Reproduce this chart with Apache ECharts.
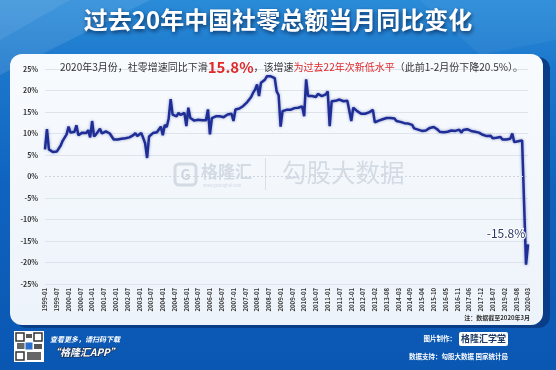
<!DOCTYPE html>
<html><head><meta charset="utf-8">
<script src="https://cdn.jsdelivr.net/npm/echarts@6/dist/echarts.min.js"></script>
<style>html,body{margin:0;padding:0;background:#0b5cb8}#c{width:556px;height:370px}</style>
</head><body><div id="c"></div>
<script>
// ---- data (当月同比, %) ----
const monthsFull = ['01','02','03','04','05','06','07','08','09','10','11','12'];
const monthsNoJan = ['02','03','04','05','06','07','08','09','10','11','12'];
const months2020 = ['02','03'];
const v1999 = [6.3, 11.0, 6.3, 5.9, 5.7, 5.6, 5.8, 6.2, 7.2, 8.3, 8.6, 9.8];
const v2000 = [11.6, 10.2, 9.8, 10.4, 11.9, 9.6, 10.0, 10.2, 9.9, 10.1, 10.8, 9.1];
const v2001 = [12.9, 9.3, 9.8, 10.0, 11.1, 10.0, 10.3, 10.5, 10.4, 10.0, 9.3, 8.6];
const v2002 = [8.2, 8.6, 9.0, 8.8, 8.6, 8.9, 9.2, 9.1, 9.5, 9.6, 10.1, 9.4];
const v2003 = [9.0, 10.1, 9.0, 7.7, 4.3, 9.3, 9.7, 10.1, 10.2, 10.3, 10.5, 11.6];
const v2004 = [9.6, 12.0, 11.5, 13.5, 18.0, 14.4, 14.2, 14.0, 14.8, 14.3, 14.4, 14.8];
const v2005 = [11.7, 16.0, 13.6, 13.3, 13.0, 13.1, 13.2, 13.0, 13.1, 13.2, 13.1, 15.6];
const v2006 = [9.8, 13.6, 13.8, 14.0, 14.2, 14.0, 13.9, 13.8, 14.1, 14.4, 14.8, 14.6];
const v2007 = [12.9, 15.6, 15.9, 15.8, 16.1, 16.4, 16.8, 17.3, 17.9, 18.5, 19.5, 20.2];
const v2008 = [21.4, 18.7, 21.8, 22.2, 22.5, 23.3, 23.4, 23.3, 23.2, 22.9, 19.8, 18.9];
const v2009 = [11.6, 15.2, 15.3, 15.5, 15.6, 15.5, 15.7, 15.9, 16.1, 16.0, 16.3, 16.3];
const v2010 = [14.0, 22.6, 18.7, 18.9, 18.7, 18.8, 18.5, 19.2, 18.9, 18.7, 19.0, 19.1];
const v2011 = [19.8, 11.7, 17.5, 17.8, 17.6, 17.5, 17.9, 17.6, 17.5, 17.8, 17.6, 17.3];
const v2012 = [12.9, 16.0, 15.6, 15.2, 14.8, 14.6, 14.5, 14.6, 14.6, 14.9, 15.2, 15.5];
const v2013 = [12.6, 12.9, 13.0, 13.2, 13.3, 13.4, 13.6, 13.5, 13.6, 13.7, 13.5];
const v2014 = [12.9, 12.6, 12.7, 12.5, 12.4, 12.5, 12.3, 12.4, 12.0, 11.2, 11.5];
const v2015 = [10.9, 10.5, 10.6, 10.8, 10.7, 11.0, 11.3, 11.2, 11.5, 11.1, 10.9];
const v2016 = [10.4, 10.6, 10.3, 10.5, 10.4, 10.6, 10.7, 10.5, 10.6, 11.0, 10.9];
const v2017 = [10.2, 10.8, 10.7, 11.0, 10.8, 10.6, 10.5, 10.4, 10.2, 10.2, 9.9];
const v2018 = [9.7, 9.9, 9.4, 9.3, 9.5, 8.9, 8.8, 9.0, 8.8, 9.2, 8.6];
const v2019 = [8.2, 8.6, 8.2, 8.8, 10.0, 8.0, 8.0, 8.2, 8.0, 8.4, 8.2];
const v2020 = [-20.5, -15.8];
const yTicks = {min: -25, max: 25, step: 5};

const yearBlocks = [
  ['1999', monthsFull, v1999], ['2000', monthsFull, v2000], ['2001', monthsFull, v2001],
  ['2002', monthsFull, v2002], ['2003', monthsFull, v2003], ['2004', monthsFull, v2004],
  ['2005', monthsFull, v2005], ['2006', monthsFull, v2006], ['2007', monthsFull, v2007],
  ['2008', monthsFull, v2008], ['2009', monthsFull, v2009], ['2010', monthsFull, v2010],
  ['2011', monthsFull, v2011], ['2012', monthsFull, v2012], ['2013', monthsNoJan, v2013],
  ['2014', monthsNoJan, v2014], ['2015', monthsNoJan, v2015], ['2016', monthsNoJan, v2016],
  ['2017', monthsNoJan, v2017], ['2018', monthsNoJan, v2018], ['2019', monthsNoJan, v2019],
  ['2020', months2020, v2020]
];
const categories = [], values = [];
yearBlocks.forEach(([y, ms, vs]) => ms.forEach((m, i) => { categories.push(y + '-' + m); values.push(vs[i]); }));

const FONT = '"Noto Sans CJK SC", "Noto Sans", sans-serif';
const gridColors = [];
for (let t = yTicks.min; t <= yTicks.max; t += yTicks.step) gridColors.push(t === 0 ? 'rgba(0,0,0,0)' : '#dde4ec');

const chart = echarts.init(document.getElementById('c'));
chart.setOption({
  animation: false,
  backgroundColor: {type: 'linear', x: 0, y: 0, x2: 0, y2: 1, colorStops: [
    {offset: 0, color: '#2a8bd8'}, {offset: 0.18, color: '#1c78cc'}, {offset: 0.5, color: '#0f63bf'}, {offset: 1, color: '#0a57b2'}]},
  textStyle: {fontFamily: FONT},
  grid: {left: 45, right: 28, top: 69, bottom: 86},
  xAxis: {
    type: 'category', data: categories, boundaryGap: false,
    axisLine: {show: false}, axisTick: {show: false},
    axisLabel: {interval: 5, rotate: 90, fontSize: 6, fontWeight: 'bold', color: '#333', margin: 4, fontFamily: FONT}
  },
  yAxis: {
    type: 'value', min: yTicks.min, max: yTicks.max, interval: yTicks.step,
    axisLine: {show: false}, axisTick: {show: false},
    axisLabel: {formatter: '{value}%', fontSize: 7, fontWeight: 'bold', color: '#333', margin: 7, fontFamily: FONT},
    splitLine: {lineStyle: {color: gridColors, width: 1}}
  },
  graphic: [
    {type: 'polygon', z: -20, shape: {points: [[0,0],[150,0],[40,55],[0,75]]}, style: {fill: 'rgba(255,255,255,0.10)'}},
    {type: 'polygon', z: -20, shape: {points: [[0,0],[70,0],[0,40]]}, style: {fill: 'rgba(255,255,255,0.08)'}},
    {type: 'polygon', z: -20, shape: {points: [[420,0],[556,0],[556,40],[480,55]]}, style: {fill: 'rgba(255,255,255,0.05)'}},
    {type: 'text', z: 5, left: 'center', top: 8, style: {text: '过去20年中国社零总额当月同比变化', fill: '#fff', font: 'bold 24px ' + FONT,
      textShadowColor: 'rgba(0,20,60,0.75)', textShadowBlur: 4, textShadowOffsetX: 1, textShadowOffsetY: 2}},
    {type: 'rect', z: -12, shape: {x: 15, y: 57, width: 535, height: 271, r: 12}, style: {fill: '#0a3d87'}},
    {type: 'rect', z: -10, shape: {x: 10, y: 54, width: 533, height: 271, r: 12}, style: {fill: {type: 'linear', x: 0, y: 0, x2: 0, y2: 1,
      colorStops: [{offset: 0, color: '#f8fbfe'}, {offset: 1, color: '#edf3fa'}]}}},
    {type: 'text', z: 5, x: 60, y: 67, style: {text: '{a|2020年3月份，社零增速同比下滑}{b|15.8%}{a|，该增速}{r|为过去22年次新低水平}{a|（此前1-2月份下降20.5%）。}',
      verticalAlign: 'middle', rich: {
        a: {fontSize: 10, fill: '#333', fontFamily: FONT},
        b: {fontSize: 15, fontWeight: 'bold', fill: '#e02a2a', fontFamily: FONT},
        r: {fontSize: 10, fill: '#e02a2a', fontFamily: FONT}}}},
    // watermark
    {type: 'rect', z: 1, shape: {x: 175, y: 164, width: 21, height: 21, r: 4}, style: {fill: 'none', stroke: 'rgba(140,152,168,0.3)', lineWidth: 3}},
    {type: 'text', z: 1, x: 185.5, y: 175, style: {text: 'G', align: 'center', verticalAlign: 'middle', font: 'bold 14px ' + FONT, fill: 'rgba(140,152,168,0.35)'}},
    {type: 'text', z: 1, x: 201, y: 172, style: {text: '格隆汇', verticalAlign: 'middle', font: 'bold 17px ' + FONT, fill: 'rgba(140,152,168,0.3)'}},
    {type: 'text', z: 1, x: 203, y: 185, style: {text: 'www.gelonghui.com', verticalAlign: 'middle', font: '4px ' + FONT, fill: 'rgba(140,152,168,0.35)'}},
    {type: 'rect', z: 1, shape: {x: 265, y: 158, width: 1, height: 32}, style: {fill: 'rgba(140,152,168,0.25)'}},
    {type: 'text', z: 1, x: 282, y: 173, style: {text: '勾股大数据', verticalAlign: 'middle', font: '24.5px ' + FONT, fill: 'rgba(140,152,168,0.3)'}},
    {type: 'text', z: 5, x: 530, y: 318, style: {text: '注：数据截至2020年3月', align: 'right', verticalAlign: 'middle', font: 'bold 6px ' + FONT, fill: '#333'}},
    // footer
    {type: 'rect', z: 5, shape: {x: 14, y: 331, width: 30, height: 31}, style: {fill: '#fff'}},
    {type: 'rect', z: 6, shape: {x: 16, y: 333, width: 8, height: 8}, style: {fill: 'none', stroke: '#333', lineWidth: 1.5}},
    {type: 'rect', z: 6, shape: {x: 34, y: 333, width: 8, height: 8}, style: {fill: 'none', stroke: '#333', lineWidth: 1.5}},
    {type: 'rect', z: 6, shape: {x: 16, y: 352, width: 8, height: 8}, style: {fill: 'none', stroke: '#333', lineWidth: 1.5}},
    {type: 'rect', z: 6, shape: {x: 26, y: 334, width: 6, height: 4}, style: {fill: '#555'}},
    {type: 'rect', z: 6, shape: {x: 17, y: 343, width: 10, height: 6}, style: {fill: '#666'}},
    {type: 'rect', z: 6, shape: {x: 34, y: 344, width: 8, height: 5}, style: {fill: '#555'}},
    {type: 'rect', z: 6, shape: {x: 27, y: 352, width: 14, height: 8}, style: {fill: '#666'}},
    {type: 'rect', z: 7, shape: {x: 25, y: 342, width: 8, height: 8}, style: {fill: '#2a6fd0', stroke: '#fff', lineWidth: 1}},
    {type: 'text', z: 5, x: 50, y: 339, style: {text: '查看更多，请扫码下载', verticalAlign: 'middle', font: 'italic bold 7px ' + FONT, fill: '#fff'}},
    {type: 'text', z: 5, x: 50, y: 352, style: {text: '“格隆汇APP”', verticalAlign: 'middle', font: 'italic bold 10px ' + FONT, fill: '#fff',
      stroke: '#17345f', lineWidth: 1.5}},
    {type: 'text', z: 5, x: 456, y: 339, style: {text: '图片制作：', align: 'right', verticalAlign: 'middle', font: 'bold 6.5px ' + FONT, fill: '#fff'}},
    {type: 'rect', z: 5, shape: {x: 459, y: 332, width: 49, height: 14, r: 2}, style: {fill: '#ffffff'}},
    {type: 'text', z: 6, x: 483.5, y: 339, style: {text: '格隆汇学堂', align: 'center', verticalAlign: 'middle', font: 'bold 9px ' + FONT, fill: '#1f3b66'}},
    {type: 'text', z: 5, x: 508, y: 357, style: {text: '数据支持：勾股大数据 国家统计局', align: 'right', verticalAlign: 'middle', font: 'bold 6.5px ' + FONT, fill: '#fff'}}
  ],
  series: [{
    type: 'line', data: values, symbol: 'none', z: 3,
    lineStyle: {color: '#1f2d96', width: 2.5, shadowColor: 'rgba(25,40,140,0.45)', shadowBlur: 3},
    markLine: {silent: true, symbol: 'none', label: {show: false}, lineStyle: {color: '#cfd6df', type: [2, 2], width: 1}, data: [{yAxis: 0}]},
    markPoint: {symbol: 'circle', symbolSize: 0, data: [{coord: [categories[categories.length - 1], v2020[v2020.length - 1]], value: v2020[v2020.length - 1]}],
      label: {show: true, formatter: '{c}%', fontSize: 12, color: '#2b3a66', offset: [-22, -11], textBorderColor: '#fff', textBorderWidth: 2, fontFamily: FONT}}
  }]
});
</script></body></html>
